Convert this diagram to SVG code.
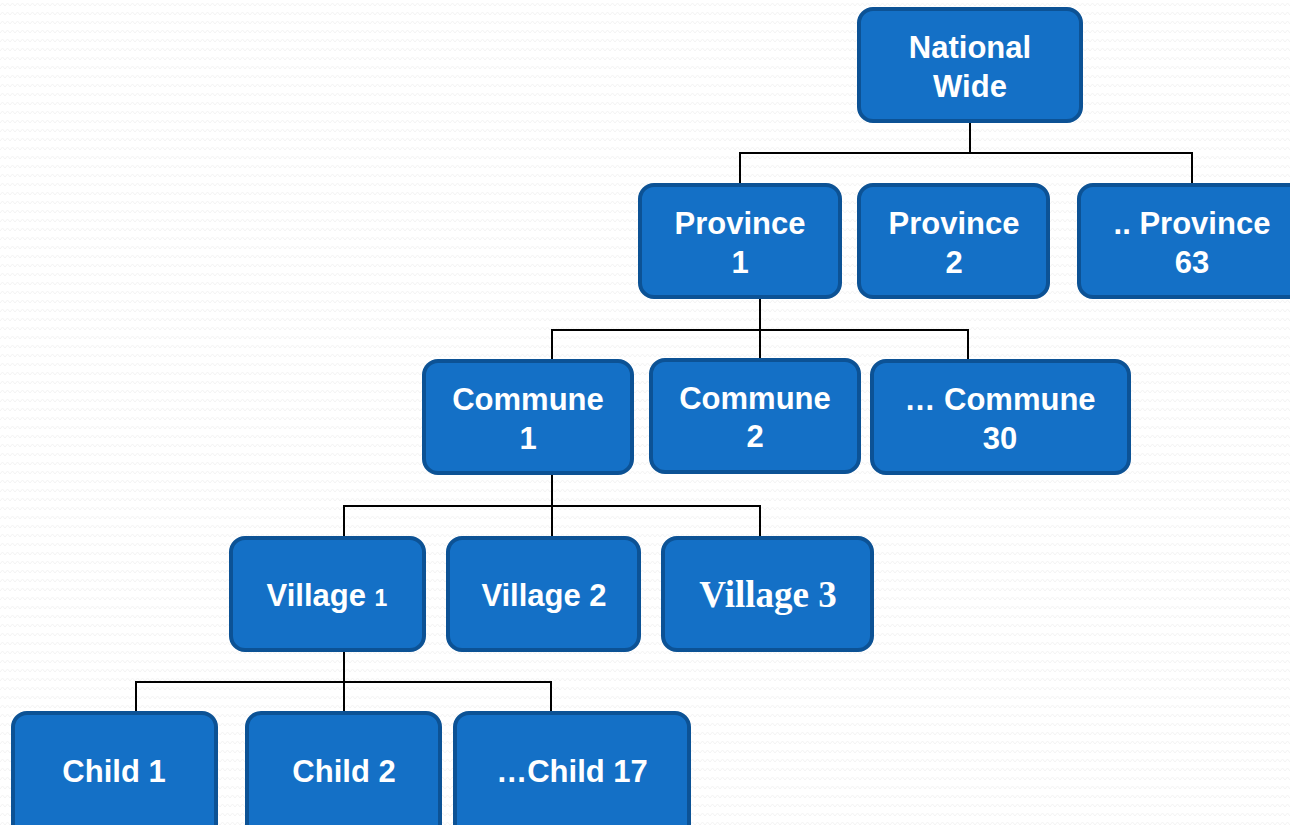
<svg xmlns="http://www.w3.org/2000/svg" width="1290" height="825" viewBox="0 0 1290 825">
<defs>
<pattern id="zz" width="10" height="9" patternUnits="userSpaceOnUse">
<polyline points="0,6 2.5,3 5,6 7.5,3 10,6" fill="none" stroke="#f3f3f3" stroke-width="1"/>
</pattern>
<style>
.n{fill:#1470c6;stroke:#0c5295;stroke-width:4}
.t{font-family:"Liberation Sans",Arial,sans-serif;font-weight:bold;font-size:31px;fill:#ffffff;text-anchor:middle}
.s{font-family:"Liberation Serif","Times New Roman",serif;font-weight:bold;font-size:37px;fill:#ffffff;text-anchor:middle}
.c{fill:none;stroke:#000000;stroke-width:2}
</style>
</defs>
<rect width="1290" height="825" fill="#ffffff"/>
<rect width="1290" height="825" fill="url(#zz)"/>
<g id="connectors">
<path class="c" d="M970,122V153M740,184V153H1192V184"/>
<path class="c" d="M760,298V330M552,360V330H968V360M760,330V360"/>
<path class="c" d="M552,474V506M344,537V506H760V537M552,506V537"/>
<path class="c" d="M344,651V682M136,712V682H551V712M344,682V712"/>
</g>
<g id="national">
<rect class="n" x="859" y="9" width="222" height="112" rx="14"/>
<text class="t" x="970" y="58">National</text>
<text class="t" x="970" y="97">Wide</text>
</g>
<g id="province1">
<rect class="n" x="640" y="185" width="200" height="112" rx="14"/>
<text class="t" x="740" y="234">Province</text>
<text class="t" x="740" y="273">1</text>
</g>
<g id="province2">
<rect class="n" x="859" y="185" width="189" height="112" rx="14"/>
<text class="t" x="954" y="234">Province</text>
<text class="t" x="954" y="273">2</text>
</g>
<g id="province63">
<rect class="n" x="1079" y="185" width="230" height="112" rx="14"/>
<text class="t" x="1192" y="234">.. Province</text>
<text class="t" x="1192" y="273">63</text>
</g>
<g id="commune1">
<rect class="n" x="424" y="361" width="208" height="112" rx="14"/>
<text class="t" x="528" y="410">Commune</text>
<text class="t" x="528" y="449">1</text>
</g>
<g id="commune2">
<rect class="n" x="651" y="360" width="208" height="112" rx="14"/>
<text class="t" x="755" y="409">Commune</text>
<text class="t" x="755" y="447">2</text>
</g>
<g id="commune30">
<rect class="n" x="872" y="361" width="257" height="112" rx="14"/>
<text class="t" x="1000" y="410">… Commune</text>
<text class="t" x="1000" y="449">30</text>
</g>
<g id="village1">
<rect class="n" x="231" y="538" width="193" height="112" rx="14"/>
<text class="t" x="327" y="606">Village <tspan font-size="23px">1</tspan></text>
</g>
<g id="village2">
<rect class="n" x="448" y="538" width="191" height="112" rx="14"/>
<text class="t" x="544" y="606">Village 2</text>
</g>
<g id="village3">
<rect class="n" x="663" y="538" width="209" height="112" rx="14"/>
<text class="s" x="768" y="607">Village 3</text>
</g>
<g id="child1">
<rect class="n" x="13" y="713" width="203" height="130" rx="14"/>
<text class="t" x="114" y="782">Child 1</text>
</g>
<g id="child2">
<rect class="n" x="247" y="713" width="193" height="130" rx="14"/>
<text class="t" x="344" y="782">Child 2</text>
</g>
<g id="child17">
<rect class="n" x="455" y="713" width="234" height="130" rx="14"/>
<text class="t" x="572" y="782">…Child 17</text>
</g>
</svg>
